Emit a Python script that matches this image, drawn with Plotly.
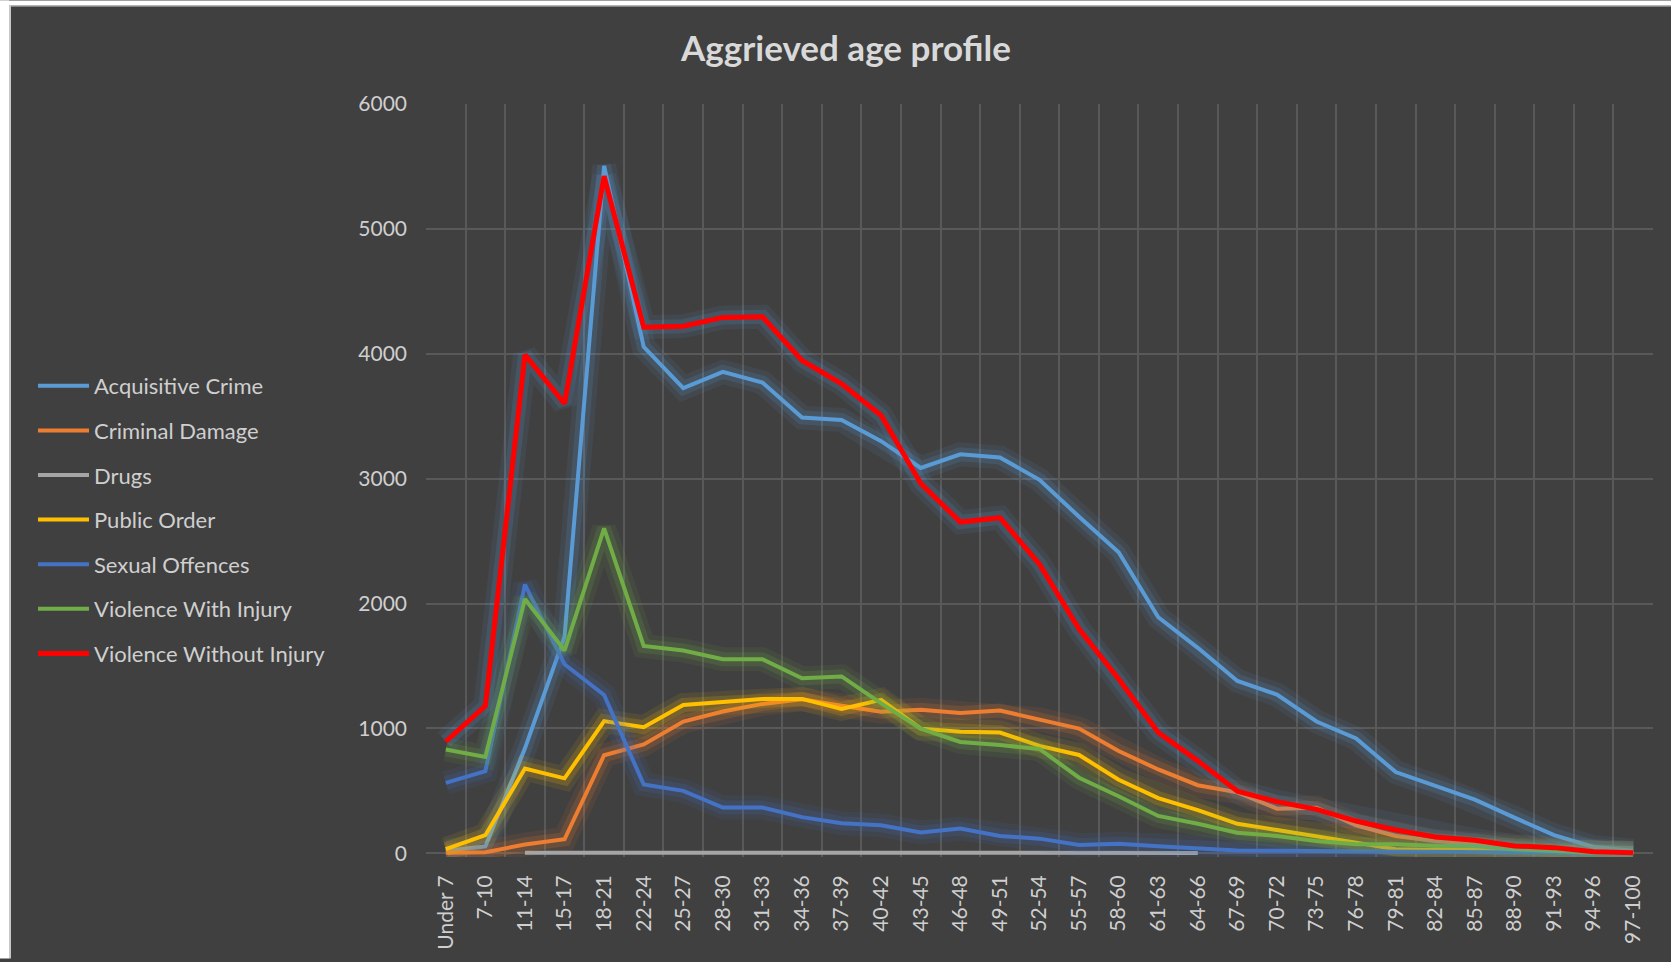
import plotly.graph_objects as go

# age bands on the x axis
age_bands = [
    "Under 7", "7-10", "11-14", "15-17", "18-21", "22-24", "25-27", "28-30",
    "31-33", "34-36", "37-39", "40-42", "43-45", "46-48", "49-51", "52-54",
    "55-57", "58-60", "61-63", "64-66", "67-69", "70-72", "73-75", "76-78",
    "79-81", "82-84", "85-87", "88-90", "91-93", "94-96", "97-100",
]

acquisitive_crime = [
    20, 55, 840, 1735, 5505, 4055, 3725, 3855, 3770, 3490, 3470, 3300, 3085,
    3195, 3170, 2990, 2695, 2410, 1890, 1645, 1380, 1270, 1055, 920, 650, 540,
    430, 285, 145, 50, 20,
]
criminal_damage = [
    5, 8, 70, 112, 785, 872, 1055, 1135, 1196, 1233, 1181, 1134, 1150, 1124,
    1143, 1071, 998, 819, 671, 545, 488, 357, 365, 224, 138, 98, 77, 45, 24,
    6, 2,
]
drugs = [
    None, None, 5, 5, 5, 6, 8, 6, 8, 7, 6, 5, 5, 6, 5, 4, 5, 6, 4, 3,
    None, None, None, None, None, None, None, None, None, None, None,
]
public_order = [
    33, 145, 678, 600, 1058, 1010, 1187, 1211, 1236, 1236, 1156, 1228, 998,
    973, 967, 860, 787, 589, 441, 346, 236, 186, 138, 85, 32, 27, 32, 19, 13,
    5, 2,
]
sexual_offences = [
    563, 657, 2152, 1513, 1268, 551, 500, 366, 366, 289, 240, 224, 167, 198,
    139, 117, 66, 76, 57, 38, 22, 20, 18, 15, 12, 12, 15, 10, 5, 2, 0,
]
violence_with_injury = [
    831, 772, 2036, 1624, 2602, 1660, 1624, 1554, 1554, 1401, 1416, 1200, 998,
    891, 866, 835, 605, 457, 299, 236, 164, 138, 98, 72, 72, 59, 59, 32, 19,
    5, 2,
]
violence_without_injury = [
    895, 1180, 3992, 3601, 5422, 4212, 4221, 4291, 4297, 3946, 3760, 3506,
    2961, 2652, 2687, 2315, 1795, 1395, 967, 740, 496, 413, 351, 258, 186, 130,
    104, 59, 45, 13, 5,
]

# name, values, line colour, glow rgb (None = no glow), line width
series = [
    ("Acquisitive Crime", acquisitive_crime, "#5B9BD5", "91,155,213", 4),
    ("Criminal Damage", criminal_damage, "#ED7D31", "237,125,49", 4),
    ("Drugs", drugs, "#A5A5A5", None, 4),
    ("Public Order", public_order, "#FFC000", "255,192,0", 4),
    ("Sexual Offences", sexual_offences, "#4472C4", "68,114,196", 4),
    ("Violence With Injury", violence_with_injury, "#70AD47", "112,173,71", 4),
    ("Violence Without Injury", violence_without_injury, "#FF0000", "91,155,213", 5),
]

W, H = 1671, 962
M_L, M_R, M_T, M_B = 426, 18, 104, 102
BG = "#404040"
GRID = "#595959"
TEXT = "#cfcfcf"
FONT = "Lato, 'Open Sans', sans-serif"


def px_x(px):
    return (px - M_L) / (W - M_L - M_R)


def px_y(py):
    return (H - M_B - py) / (H - M_T - M_B)


fig = go.Figure()

for name, values, color, glow, width in series:
    # soft glow underneath, like the Excel glow effect
    if glow:
        for gw, alpha in ((24, 0.09), (14, 0.17)):
            fig.add_trace(
                go.Scatter(
                    x=age_bands,
                    y=values,
                    mode="lines",
                    line=dict(color=f"rgba({glow},{alpha})", width=gw),
                    showlegend=False,
                    hoverinfo="skip",
                )
            )
    fig.add_trace(
        go.Scatter(
            x=age_bands,
            y=values,
            mode="lines",
            name=name,
            legendgroup=name,
            line=dict(color=color, width=width),
        )
    )

# light frame on the left and top edge of the screenshot
fig.add_shape(type="rect", xref="paper", yref="paper",
              x0=px_x(0), x1=px_x(9), y0=px_y(H), y1=px_y(0),
              fillcolor="white", line_width=0, layer="below")
fig.add_shape(type="rect", xref="paper", yref="paper",
              x0=px_x(9), x1=px_x(11), y0=px_y(H), y1=px_y(5),
              fillcolor="#c8c8c8", line_width=0, layer="below")
fig.add_shape(type="rect", xref="paper", yref="paper",
              x0=px_x(0), x1=px_x(W), y0=px_y(5), y1=px_y(0),
              fillcolor="white", line_width=0, layer="below")
fig.add_shape(type="rect", xref="paper", yref="paper",
              x0=px_x(9), x1=px_x(W), y0=px_y(6), y1=px_y(5),
              fillcolor="#c8c8c8", line_width=0, layer="below")

fig.update_layout(
    width=W,
    height=H,
    margin=dict(l=M_L, r=M_R, t=M_T, b=M_B, pad=0),
    paper_bgcolor=BG,
    plot_bgcolor=BG,
    font=dict(family=FONT, size=21, color=TEXT),
    title=dict(
        text="Aggrieved age profile",
        font=dict(family=FONT, size=35, color="#d9d9d9", weight=700),
        x=846 / W,
        xref="container",
        xanchor="center",
        y=1 - 49 / H,
        yref="container",
        yanchor="middle",
    ),
    legend=dict(
        x=33 / W,
        xref="container",
        xanchor="left",
        y=1 - 365 / H,
        yref="container",
        yanchor="top",
        traceorder="grouped",
        tracegroupgap=13,
        bgcolor="rgba(0,0,0,0)",
        font=dict(family=FONT, size=22, color=TEXT),
        itemwidth=51,
    ),
    showlegend=True,
    hovermode="x unified",
)

fig.update_xaxes(
    type="category",
    range=[-0.5, len(age_bands) - 0.5],
    tickson="boundaries",
    showgrid=True,
    gridcolor=GRID,
    gridwidth=1.5,
    tickangle=-90,
    ticks="",
    ticklabelstandoff=13,
    showline=False,
    zeroline=False,
)

# a little room below zero so lines sitting on 0 are not cut in half
fig.update_yaxes(
    range=[-30, 6000],
    tickvals=[0, 1000, 2000, 3000, 4000, 5000, 6000],
    showgrid=True,
    gridcolor=GRID,
    gridwidth=1.5,
    ticks="",
    ticklabelstandoff=18,
    showline=False,
    zeroline=False,
)

fig.write_html(
    "out.html",
    config={"displayModeBar": False},
    post_script="document.body.style.margin = '0';",
)
